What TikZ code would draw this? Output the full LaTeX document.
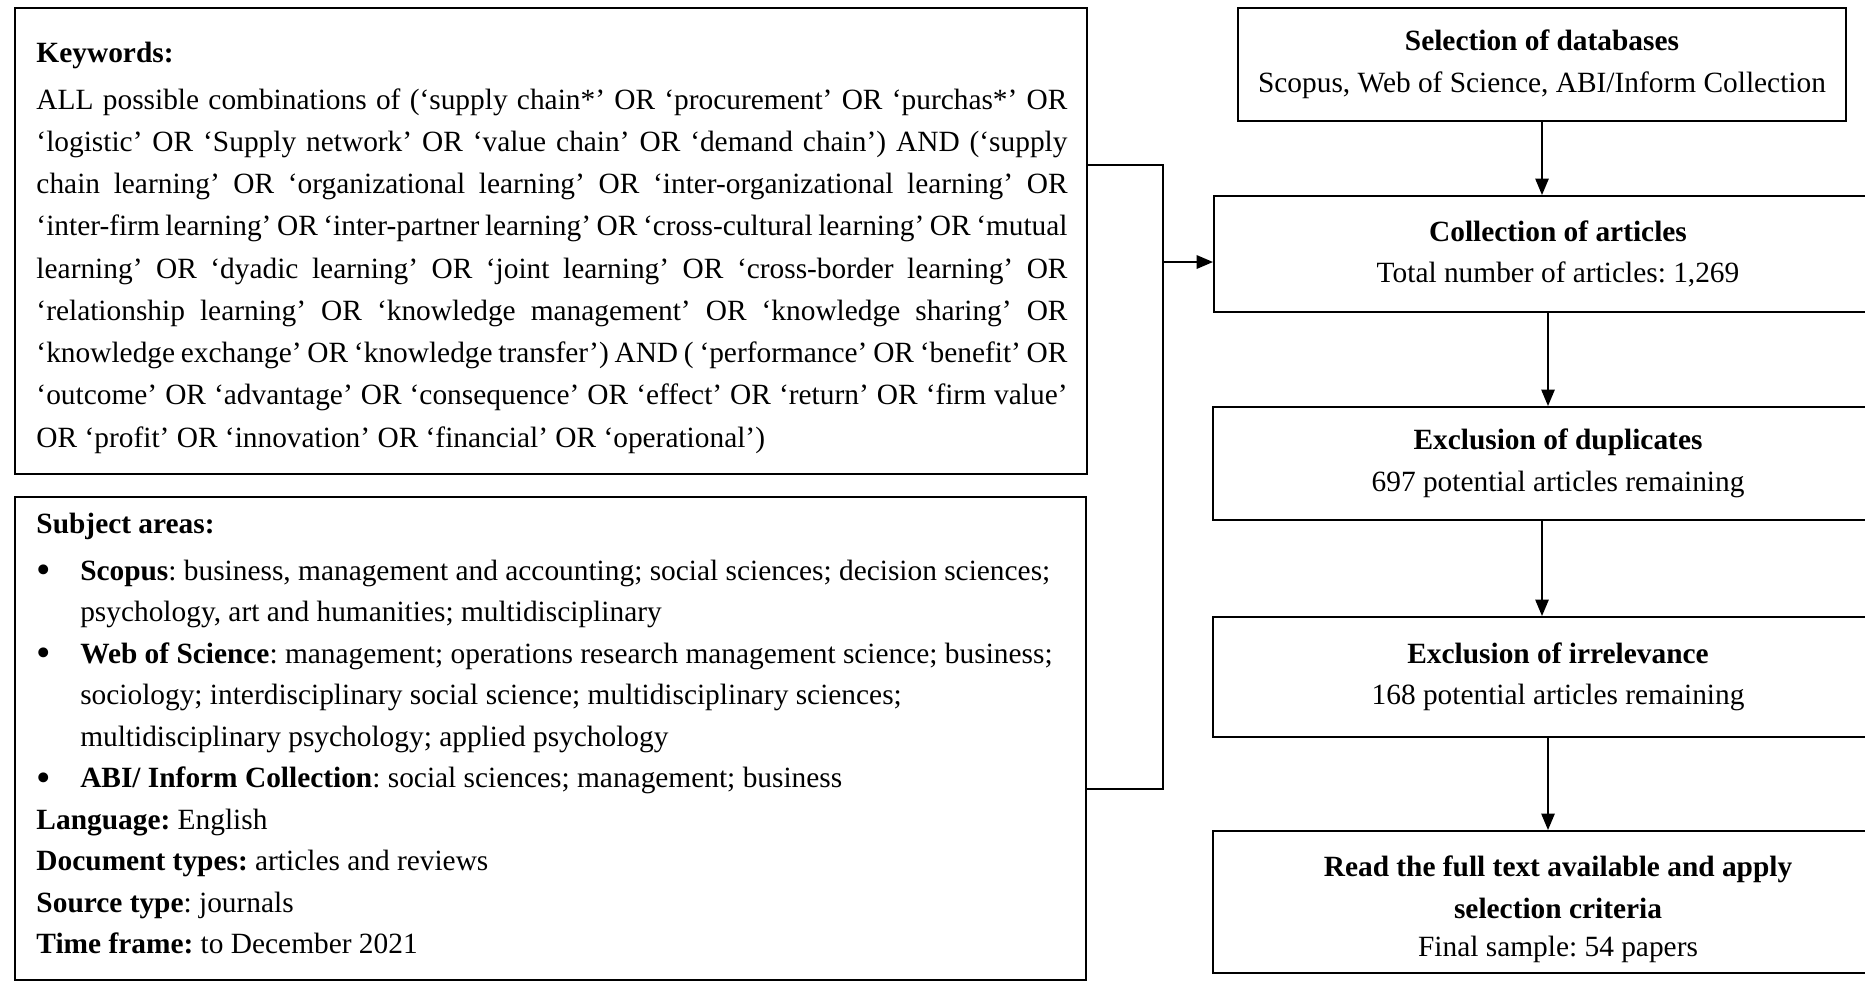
\documentclass[tikz,border=0pt]{standalone}
\usepackage{fontspec}
\setmainfont{Liberation Serif}
\usetikzlibrary{arrows.meta}
\newlength\kwW
\setlength\kwW{412.4pt}
\newcommand\bigbul{\makebox[17.5pt][l]{\raisebox{-1.4pt}{\fontsize{16.5}{16.5}\selectfont •}}}
\frenchspacing
\begin{document}
\begin{tikzpicture}[x=0.4pt,y=-0.4pt,
  box/.style={draw, line width=0.8pt, rectangle, inner sep=0pt},
  flow/.style={box, align=center, font=\fontsize{11.75}{16.6}\selectfont},
  link/.style={line width=0.55pt},
  arr/.style={link, -{Triangle[length=6.6pt,width=5.4pt]}},
  txt/.style={anchor=base west, inner sep=0pt},
]
\clip (0,0) rectangle (1865,981);
% left boxes
\node[box, anchor=north west, minimum width=428.8pt, minimum height=186.4pt] (kw) at (14,7) {};
\node[box, anchor=north west, minimum width=428.4pt, minimum height=193.2pt] (sub) at (14,496) {};
\node[txt, font=\fontsize{11.75}{16.9}\selectfont] (kwt) at (36,62) {\parbox[t]{\kwW}{%
\textbf{Keywords:}\par\vspace{1.9pt}
\hbox to\kwW{ALL possible combinations of (‘supply chain*’ OR ‘procurement’ OR ‘purchas*’ OR}
\hbox to\kwW{‘logistic’ OR ‘Supply network’ OR ‘value chain’ OR ‘demand chain’) AND (‘supply}
\hbox to\kwW{chain learning’ OR ‘organizational learning’ OR ‘inter-organizational learning’ OR}
\hbox to\kwW{‘inter-firm learning’ OR ‘inter-partner learning’ OR ‘cross-cultural learning’ OR ‘mutual}
\hbox to\kwW{learning’ OR ‘dyadic learning’ OR ‘joint learning’ OR ‘cross-border learning’ OR}
\hbox to\kwW{‘relationship learning’ OR ‘knowledge management’ OR ‘knowledge sharing’ OR}
\hbox to\kwW{‘knowledge exchange’ OR ‘knowledge transfer’) AND ( ‘performance’ OR ‘benefit’ OR}
\hbox to\kwW{‘outcome’ OR ‘advantage’ OR ‘consequence’ OR ‘effect’ OR ‘return’ OR ‘firm value’}
\hbox{OR ‘profit’ OR ‘innovation’ OR ‘financial’ OR ‘operational’)}}};
\node[txt, font=\fontsize{11.75}{16.6}\selectfont] (subt) at (36,533) {\parbox[t]{420pt}{%
\textbf{Subject areas:}\par\vspace{2.2pt}
\hbox{\bigbul\textbf{Scopus}: business, management and accounting; social sciences; decision sciences;}
\hbox{\hspace{17.5pt}psychology, art and humanities; multidisciplinary}
\hbox{\bigbul\textbf{Web of Science}: management; operations research management science; business;}
\hbox{\hspace{17.5pt}sociology; interdisciplinary social science; multidisciplinary sciences;}
\hbox{\hspace{17.5pt}multidisciplinary psychology; applied psychology}
\hbox{\bigbul\textbf{ABI/ Inform Collection}: social sciences; management; business}
\hbox{\textbf{Language:} English}
\hbox{\textbf{Document types:} articles and reviews}
\hbox{\textbf{Source type}: journals}
\hbox{\textbf{Time frame:} to December 2021}}};
% right flow
\node[flow, minimum width=243.2pt, minimum height=45.2pt] (sel) at (1542,64.5) {\textbf{Selection of databases}\\Scopus, Web of Science, ABI/Inform Collection};
\node[flow, minimum width=275.2pt, minimum height=46.4pt] (coll) at (1558,254) {\textbf{Collection of articles}\\Total number of articles: 1,269};
\node[flow, minimum width=276pt, minimum height=45.2pt] (dup) at (1558,463.5) {\textbf{Exclusion of duplicates}\\697 potential articles remaining};
\node[flow, minimum width=276pt, minimum height=48pt] (irr) at (1558,677) {\textbf{Exclusion of irrelevance}\\168 potential articles remaining};
\node[flow, minimum width=276pt, minimum height=56.8pt] (fin) at (1558,902) {\rule{0pt}{14pt}\textbf{Read the full text available and apply}\\\textbf{selection criteria}\\[-1.5pt]Final sample: 54 papers};
% connectors
\coordinate (j1) at (1163,165);
\coordinate (j2) at (1163,789);
\coordinate (ja) at (1163,262);
\coordinate (ax1) at (1542,0);
\coordinate (ax2) at (1548,0);
\draw[link] (j1 -| kw.east) -- (j1) -- (j2) -- (j2 -| sub.east);
\draw[arr, line width=0.8pt] (ja) -- (ja -| coll.west);
\draw[arr] (sel.south) -- (sel.south |- coll.north);
\draw[arr] (coll.south -| ax2) -- (dup.north -| ax2);
\draw[arr] (dup.south -| ax1) -- (irr.north -| ax1);
\draw[arr] (irr.south -| ax2) -- (fin.north -| ax2);
\end{tikzpicture}
\end{document}
